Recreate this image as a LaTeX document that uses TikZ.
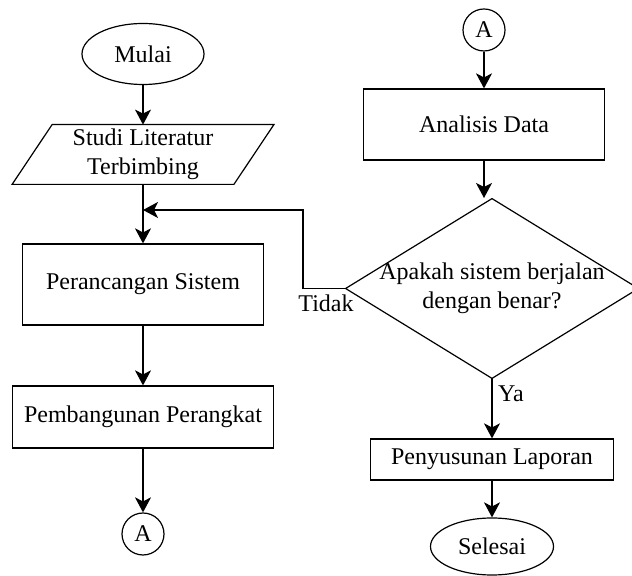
\documentclass[tikz,border=0pt]{standalone}
\usepackage{fontspec}
\setmainfont{Liberation Serif}
\usetikzlibrary{shapes.geometric,arrows.meta,calc}
\begin{document}
\begin{tikzpicture}[x=0.5pt,y=-0.5pt,
  every node/.style={font=\fontsize{12}{14.5}\selectfont, inner sep=0pt},
  line/.style={draw=black, line width=0.6pt},
  arr/.style={line, -{Stealth[length=7.5pt,width=8pt,inset=2pt]}},
  procbox/.style={line, rectangle, fill=white, align=center},
  term/.style={line, ellipse, fill=white},
  conn/.style={line, circle, minimum size=21pt},
  decbox/.style={rectangle, align=center, minimum width=146pt, minimum height=89.5pt}
]
\useasboundingbox (0,0) rectangle (632,576);

% left column
\node[term, minimum width=61pt, minimum height=30.5pt] (mulai) at (143,54) {Mulai};
\node[align=center, minimum width=110.5pt, minimum height=29.5pt] (studi) at (143,154.5) {Studi Literatur\\Terbimbing};
\draw[line] ($(studi.north west)+(20,0)$) -- ($(studi.north east)+(20,0)$)
  -- ($(studi.south east)+(-20,0)$) -- ($(studi.south west)+(-20,0)$) -- cycle;
\node[procbox, minimum width=120.5pt, minimum height=40.5pt] (peran) at (143,284.5) {Perancangan Sistem};
\node[procbox, minimum width=130.5pt, minimum height=31pt] (pemb) at (143,417) {Pembangunan Perangkat};
\node[conn] (a1) at (143,534) {A};

% right column
\node[conn] (a2) at (484,30) {A};
\node[procbox, minimum width=120.5pt, minimum height=35.5pt] (anal) at (484,124.5) {Analisis Data};
\node[decbox] (dec) at (492,288.5) {Apakah sistem berjalan\\dengan benar?};
\draw[line] (dec.north) -- (dec.east) -- (dec.south) -- (dec.west) -- cycle;
\coordinate (dtop) at (484,198);
\node[procbox, minimum width=121.5pt, minimum height=20.5pt] (peny) at (492,459.5) {Penyusunan Laporan};
\node[term, minimum width=61.5pt, minimum height=28.5pt] (sel) at (492,546.5) {Selesai};

% labels
\node (tidak) at (326,303) {Tidak};
\node (ya) at (511,394) {Ya};

% connectors
\draw[arr] (mulai) -- (studi.north);
\draw[arr] (studi.south) -- (peran.north);
\draw[arr] (peran) -- (pemb);
\draw[arr] (pemb) -- (a1);
\draw[arr] (a2) -- (anal);
\draw[arr] (anal.south) -- (dtop);
\draw[arr] (dec.south) -- (peny.north);
\draw[arr] (peny) -- (sel);
\coordinate (turn) at (303,210);
\coordinate (join) at (143,210);
\draw[arr] (dec.west) -| (turn) -- (join);
\end{tikzpicture}
\end{document}
